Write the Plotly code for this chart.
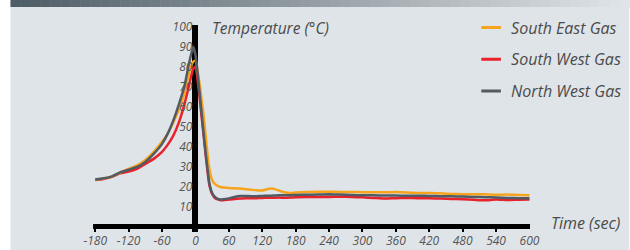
import plotly.graph_objects as go

# ---- data ----
time_s = [-180, -165, -150, -135, -120, -105, -90, -75, -60, -50, -40, -30, -20, -12, -4,
          0, 5, 10, 15, 20, 25, 30, 35, 40, 45, 50, 60, 70, 80, 90, 100, 110, 120, 130,
          140, 150, 160, 170, 180, 200, 220, 240, 260, 280, 300, 320, 340, 360, 380, 400,
          420, 440, 460, 480, 500, 520, 540, 560, 580, 600]

south_east = [23.7, 24.2, 25.2, 27.2, 29.0, 30.8, 33.5, 37.5, 42.5, 46.5, 52.0, 58.5, 66.5, 76.0, 82.5,
              83.0, 76.0, 66.0, 55.0, 41.0, 29.0, 23.5, 21.5, 20.5, 20.0, 19.7, 19.5, 19.3, 19.2, 18.9,
              18.6, 18.3, 18.2, 19.0, 19.1, 18.2, 17.3, 17.0, 17.2, 17.5, 17.6, 17.6, 17.5, 17.5, 17.4,
              17.4, 17.3, 17.5, 17.2, 17.0, 17.0, 16.8, 16.5, 16.4, 16.4, 16.3, 16.1, 16.2, 16.0, 15.9]

south_west = [23.5, 24.0, 25.0, 26.8, 27.7, 29.0, 31.5, 34.0, 37.5, 41.0, 45.5, 52.0, 61.0, 70.0, 79.0,
              80.0, 71.0, 58.0, 45.0, 32.0, 21.0, 16.5, 14.5, 13.8, 13.4, 13.4, 13.7, 14.0, 14.2, 14.3,
              14.4, 14.4, 14.5, 14.6, 14.6, 14.7, 14.6, 14.7, 14.9, 15.0, 15.0, 15.0, 15.1, 15.0, 14.8,
              14.5, 14.2, 14.4, 14.5, 14.4, 14.3, 14.2, 14.0, 13.9, 13.6, 13.3, 13.7, 13.5, 13.6, 13.7]

north_west = [23.7, 24.3, 25.3, 27.3, 28.6, 30.0, 32.5, 36.5, 41.5, 46.5, 53.0, 61.0, 70.0, 81.0, 90.0,
              86.0, 74.0, 60.0, 46.0, 33.0, 22.0, 17.0, 15.0, 14.0, 13.7, 13.8, 14.3, 15.0, 15.5, 15.5,
              15.4, 15.4, 15.5, 15.6, 15.7, 15.8, 15.8, 15.9, 16.0, 16.1, 16.2, 16.3, 16.2, 16.0, 15.8,
              15.8, 15.7, 15.7, 15.6, 15.6, 15.5, 15.4, 15.3, 15.2, 15.0, 14.9, 14.7, 14.5, 14.4, 14.3]

series_names = ["South East Gas", "South West Gas", "North West Gas"]
series_values = [south_east, south_west, north_west]
series_colors = ["#f7a41d", "#e8212b", "#505b63"]

x_ticks = list(range(-180, 601, 60))
x_tick_labels = ["-180", "-120", "-60", "0", "60", "120", "180", "240",
                 "300", "360", "420", "480", "540", "600"]
y_ticks = list(range(10, 101, 10))
y_tick_labels = ["10", "20", "30", "40", "50", "60", "70", "80", "90", "100"]

# ---- layout geometry (pixels) ----
W, H = 630, 250
L, R, T, B = 92.7, 99.5, 25, 18.3
pw = W - L - R
ph = H - T - B
BG = "#dfe4e8"
TXT = "#4a4a4a"
FONT = "Open Sans"


def px2paper_x(p):
    return (p - L) / pw


def px2paper_y(p):
    return (H - B - p) / ph


fig = go.Figure()

order = [1, 0, 2]
for i in order:
    fig.add_trace(go.Scatter(
        x=time_s, y=series_values[i], mode="lines", name=series_names[i],
        line=dict(color=series_colors[i], width=2.5, shape="spline", smoothing=0.5),
        showlegend=False, hoverinfo="skip"))

for i in range(3):
    fig.add_trace(go.Scatter(
        x=[None], y=[None], mode="markers", name=series_names[i],
        legendgroup=series_names[i],
        marker=dict(symbol="line-ew-open", size=14, color=series_colors[i],
                    line=dict(color=series_colors[i], width=3))))

shapes = []
shapes.append(dict(type="rect", xref="paper", yref="paper", layer="below",
                   x0=px2paper_x(10), x1=px2paper_x(W), y0=px2paper_y(H), y1=px2paper_y(0),
                   fillcolor=BG, line=dict(width=0)))
c0 = (78, 92, 101)
c1 = (223, 228, 232)
n = 62
for k in range(n):
    f = k / (n - 1)
    c = tuple(round(c0[j] + (c1[j] - c0[j]) * f) for j in range(3))
    xa = 10 + (W - 10) * k / n
    xb = 10 + (W - 10) * (k + 1) / n + 0.5
    shapes.append(dict(type="rect", xref="paper", yref="paper", layer="below",
                       x0=px2paper_x(xa), x1=px2paper_x(xb),
                       y0=px2paper_y(7), y1=px2paper_y(0),
                       fillcolor="rgb(%d,%d,%d)" % c, line=dict(width=0)))

fig.update_layout(
    width=W, height=H,
    margin=dict(l=L, r=R, t=T, b=B, pad=0, autoexpand=False),
    paper_bgcolor="white", plot_bgcolor=BG,
    shapes=shapes,
    showlegend=True,
    legend=dict(x=px2paper_x(471.5), xanchor="left", y=px2paper_y(10.5), yanchor="top",
                bgcolor="rgba(0,0,0,0)", tracegroupgap=8,
                font=dict(family=FONT, size=16, color=TXT, style="italic")),
    xaxis=dict(range=[-184, 601], tickvals=x_ticks, ticktext=x_tick_labels,
               ticks="inside", ticklen=3, tickwidth=1.5,
               tickcolor="black", showgrid=False, showline=False, automargin=False,
               zeroline=True, zerolinecolor="black", zerolinewidth=5.5,
               tickfont=dict(family=FONT, size=12, color="#555555", style="italic")),
    yaxis=dict(range=[-2.5, 100.85], tickvals=y_ticks, ticktext=y_tick_labels,
               ticks="", showgrid=False, showline=False,
               anchor="free", position=184 / 785, side="left", ticklabelstandoff=3, automargin=False,
               zeroline=True, zerolinecolor="black", zerolinewidth=5,
               tickfont=dict(family=FONT, size=12, color="#555555", style="italic")),
    annotations=[
        dict(text="<i>Temperature (°C)</i>", xref="paper", yref="paper",
             x=px2paper_x(210), y=px2paper_y(28), xanchor="left", yanchor="middle",
             showarrow=False, font=dict(family=FONT, size=15.5, color=TXT)),
        dict(text="<i>Time (sec)</i>", xref="paper", yref="paper",
             x=px2paper_x(550), y=px2paper_y(222.5), xanchor="left", yanchor="middle",
             showarrow=False, font=dict(family=FONT, size=16, color=TXT)),
    ],
)

fig.write_html("out.html", config={"displayModeBar": False},
               post_script="document.body.style.margin='0';document.body.style.overflow='hidden';")
